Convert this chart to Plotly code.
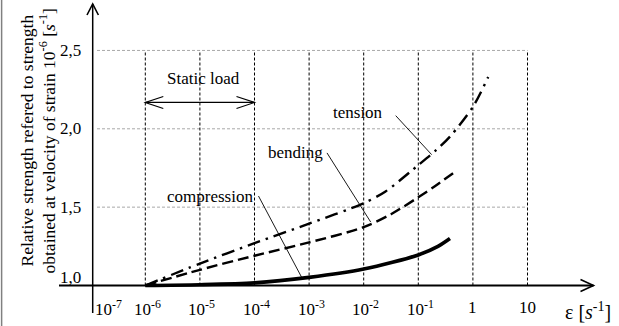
import plotly.graph_objects as go

# ---------------- data (x = log10 of strain rate) ----------------
tension_logx = [-6, -5, -4, -3, -2, -1.6, -1.15, -1, -0.68, -0.42, 0, 0.28]
tension_y = [1.0, 1.14, 1.27, 1.395, 1.525, 1.60, 1.725, 1.768, 1.862, 1.95, 2.14, 2.33]

bending_logx = [-6, -5, -4, -3, -2, -1.5, -1, -0.69, -0.3]
bending_y = [1.0, 1.10, 1.19, 1.275, 1.372, 1.455, 1.563, 1.635, 1.733]

compression_logx = [-6, -5, -4, -3, -2, -1, -0.64, -0.42]
compression_y = [1.0, 1.005, 1.017, 1.052, 1.105, 1.195, 1.25, 1.30]

x_tick_exp = [-7, -6, -5, -4, -3, -2, -1, 0, 1]
x_tick_text = ["10<sup>-7</sup>", "10<sup>-6</sup>", "10<sup>-5</sup>", "10<sup>-4</sup>",
               "10<sup>-3</sup>", "10<sup>-2</sup>", "10<sup>-1</sup>", "1", "10"]
y_tick_vals = [1.0, 1.5, 2.0, 2.5]
y_tick_text = ["1,0", "1,5", "2,0", "2,5"]
vgrid_exp = [-6, -5, -4, -3, -2, -1, 0, 1]

# ---------------- geometry ----------------
W, H = 619, 326
PX_DEC = 54.6      # pixels per decade
PX_UNIT = 156.7    # pixels per unit of relative strength
X0 = -6 - 145.3 / PX_DEC
X1 = X0 + W / PX_DEC
Y0 = 1 - (H - 285.5) / PX_UNIT
Y1 = Y0 + H / PX_UNIT

def dx(px):
    return px / PX_DEC

def dy(px):
    return px / PX_UNIT

FONT = "'Liberation Serif', 'Times New Roman', 'DejaVu Serif', serif"
fig = go.Figure()

fig.add_trace(go.Scatter(x=compression_logx, y=compression_y, mode="lines",
                         line=dict(color="black", width=3.6, shape="spline", smoothing=0.8),
                         name="compression"))
fig.add_trace(go.Scatter(x=bending_logx, y=bending_y, mode="lines",
                         line=dict(color="black", width=2.4, dash="11px,5px", shape="spline",
                                   smoothing=0.8),
                         name="bending"))
fig.add_trace(go.Scatter(x=tension_logx, y=tension_y, mode="lines",
                         line=dict(color="black", width=2.4, dash="13px,6px,2.5px,6px",
                                   shape="spline", smoothing=0.8),
                         name="tension"))

shapes = []
# horizontal gray gridlines
for v in y_tick_vals[1:]:
    shapes.append(dict(type="line", x0=-7 + dx(6.3), x1=1, y0=v, y1=v,
                       line=dict(color="#a8a8a8", width=1, dash="3px,2px"), layer="below"))
# vertical black dashed lines
for e in vgrid_exp:
    shapes.append(dict(type="line", x0=e, x1=e, y0=1.0, y1=2.5,
                       line=dict(color="black", width=1, dash="3px,2px"), layer="below"))

# axes
ax_x = -7 + dx(2)
shapes.append(dict(type="line", x0=-6 - dx(86.3), x1=1 + dx(66), y0=1.0, y1=1.0,
                   line=dict(color="black", width=2)))
shapes.append(dict(type="line", x0=ax_x, x1=ax_x, y0=1 - dy(27.5), y1=1 + dy(281.5),
                   line=dict(color="black", width=1.5)))
# x-axis arrowhead
tipx, tipy = 1 + dx(66), 1.0
shapes.append(dict(type="path",
                   path=f"M {tipx - dx(13)} {tipy + dy(6)} L {tipx} {tipy} L {tipx - dx(13)} {tipy - dy(6)}",
                   line=dict(color="black", width=1.6)))
# y-axis arrowhead
ty = 1 + dy(281.5)
shapes.append(dict(type="path",
                   path=f"M {ax_x - dx(5.7)} {ty - dy(11)} L {ax_x} {ty} L {ax_x + dx(5.7)} {ty - dy(11)}",
                   line=dict(color="black", width=1.6)))

# static load double arrow
sy = 2.168
shapes.append(dict(type="line", x0=-6, x1=-4, y0=sy, y1=sy, line=dict(color="black", width=1.2)))
shapes.append(dict(type="path",
                   path=f"M {-6 + dx(18)} {sy + dy(6)} L -6 {sy} L {-6 + dx(18)} {sy - dy(6)}",
                   line=dict(color="black", width=1.2)))
shapes.append(dict(type="path",
                   path=f"M {-4 - dx(18)} {sy + dy(6)} L -4 {sy} L {-4 - dx(18)} {sy - dy(6)}",
                   line=dict(color="black", width=1.2)))

# leader lines
leaders = [(-1.414, 2.084, -0.755, 1.835),
           (-2.672, 1.846, -1.872, 1.405),
           (-3.927, 1.571, -3.136, 1.052)]
for x0, y0, x1, y1 in leaders:
    shapes.append(dict(type="line", x0=x0, y0=y0, x1=x1, y1=y1,
                       line=dict(color="black", width=0.9)))

# left frame line
shapes.append(dict(type="line", xref="paper", yref="paper", x0=0.0026, x1=0.0026, y0=0, y1=1,
                   line=dict(color="#808080", width=1.5)))

annotations = []
f17 = dict(family=FONT, size=17, color="black")
# x tick labels
for e, t in zip(x_tick_exp, x_tick_text):
    shift = 2 if "sup" in t else 0
    if e == -7:
        shift = 18
    annotations.append(dict(x=e, y=1 - dy(22), text=t, showarrow=False, xanchor="center",
                            yanchor="middle", xshift=shift, font=f17))
# y tick labels
for v, t in zip(y_tick_vals, y_tick_text):
    yy = v + dy(8) if v == 1.0 else v
    annotations.append(dict(x=-6 - dx(62.3), y=yy, text=t, showarrow=False, xanchor="right",
                            yanchor="middle", font=f17))
# axis titles
annotations.append(dict(x=-6 - dx(119.3), y=1 + dy(145), textangle=-90, showarrow=False,
                        text="Relative strength refered to strength",
                        font=dict(family=FONT, size=17.5, color="black")))
annotations.append(dict(x=-6 - dx(98.3), y=1 + dy(144), textangle=-90, showarrow=False,
                        text="obtained at velocity of strain 10<sup>-6</sup> [<i>s</i><sup>-1</sup>]",
                        font=dict(family=FONT, size=17.5, color="black")))
annotations.append(dict(x=1 + dx(60), y=1 - dy(25), text="ε [<i>s</i><sup>-1</sup>]",
                        showarrow=False, xanchor="center", yanchor="middle",
                        font=dict(family=FONT, size=20, color="black")))
# curve labels
annotations.append(dict(x=-4.934, y=2.318, text="Static load", showarrow=False, font=f17))
annotations.append(dict(x=-2.104, y=2.107, text="tension", showarrow=False, font=f17))
annotations.append(dict(x=-3.258, y=1.846, text="bending", showarrow=False, font=f17))
annotations.append(dict(x=-4.815, y=1.565, text="compression", showarrow=False, font=f17))

fig.update_layout(
    width=W, height=H, margin=dict(l=0, r=0, t=0, b=0),
    paper_bgcolor="white", plot_bgcolor="white", showlegend=False,
    font=dict(family=FONT, size=17, color="black"),
    xaxis=dict(range=[X0, X1], visible=False, fixedrange=True),
    yaxis=dict(range=[Y0, Y1], visible=False, fixedrange=True),
    shapes=shapes, annotations=annotations,
)
fig.write_html("out.html", config={"displayModeBar": False},
               post_script="document.body.style.margin='0';document.body.style.overflow='hidden';")
